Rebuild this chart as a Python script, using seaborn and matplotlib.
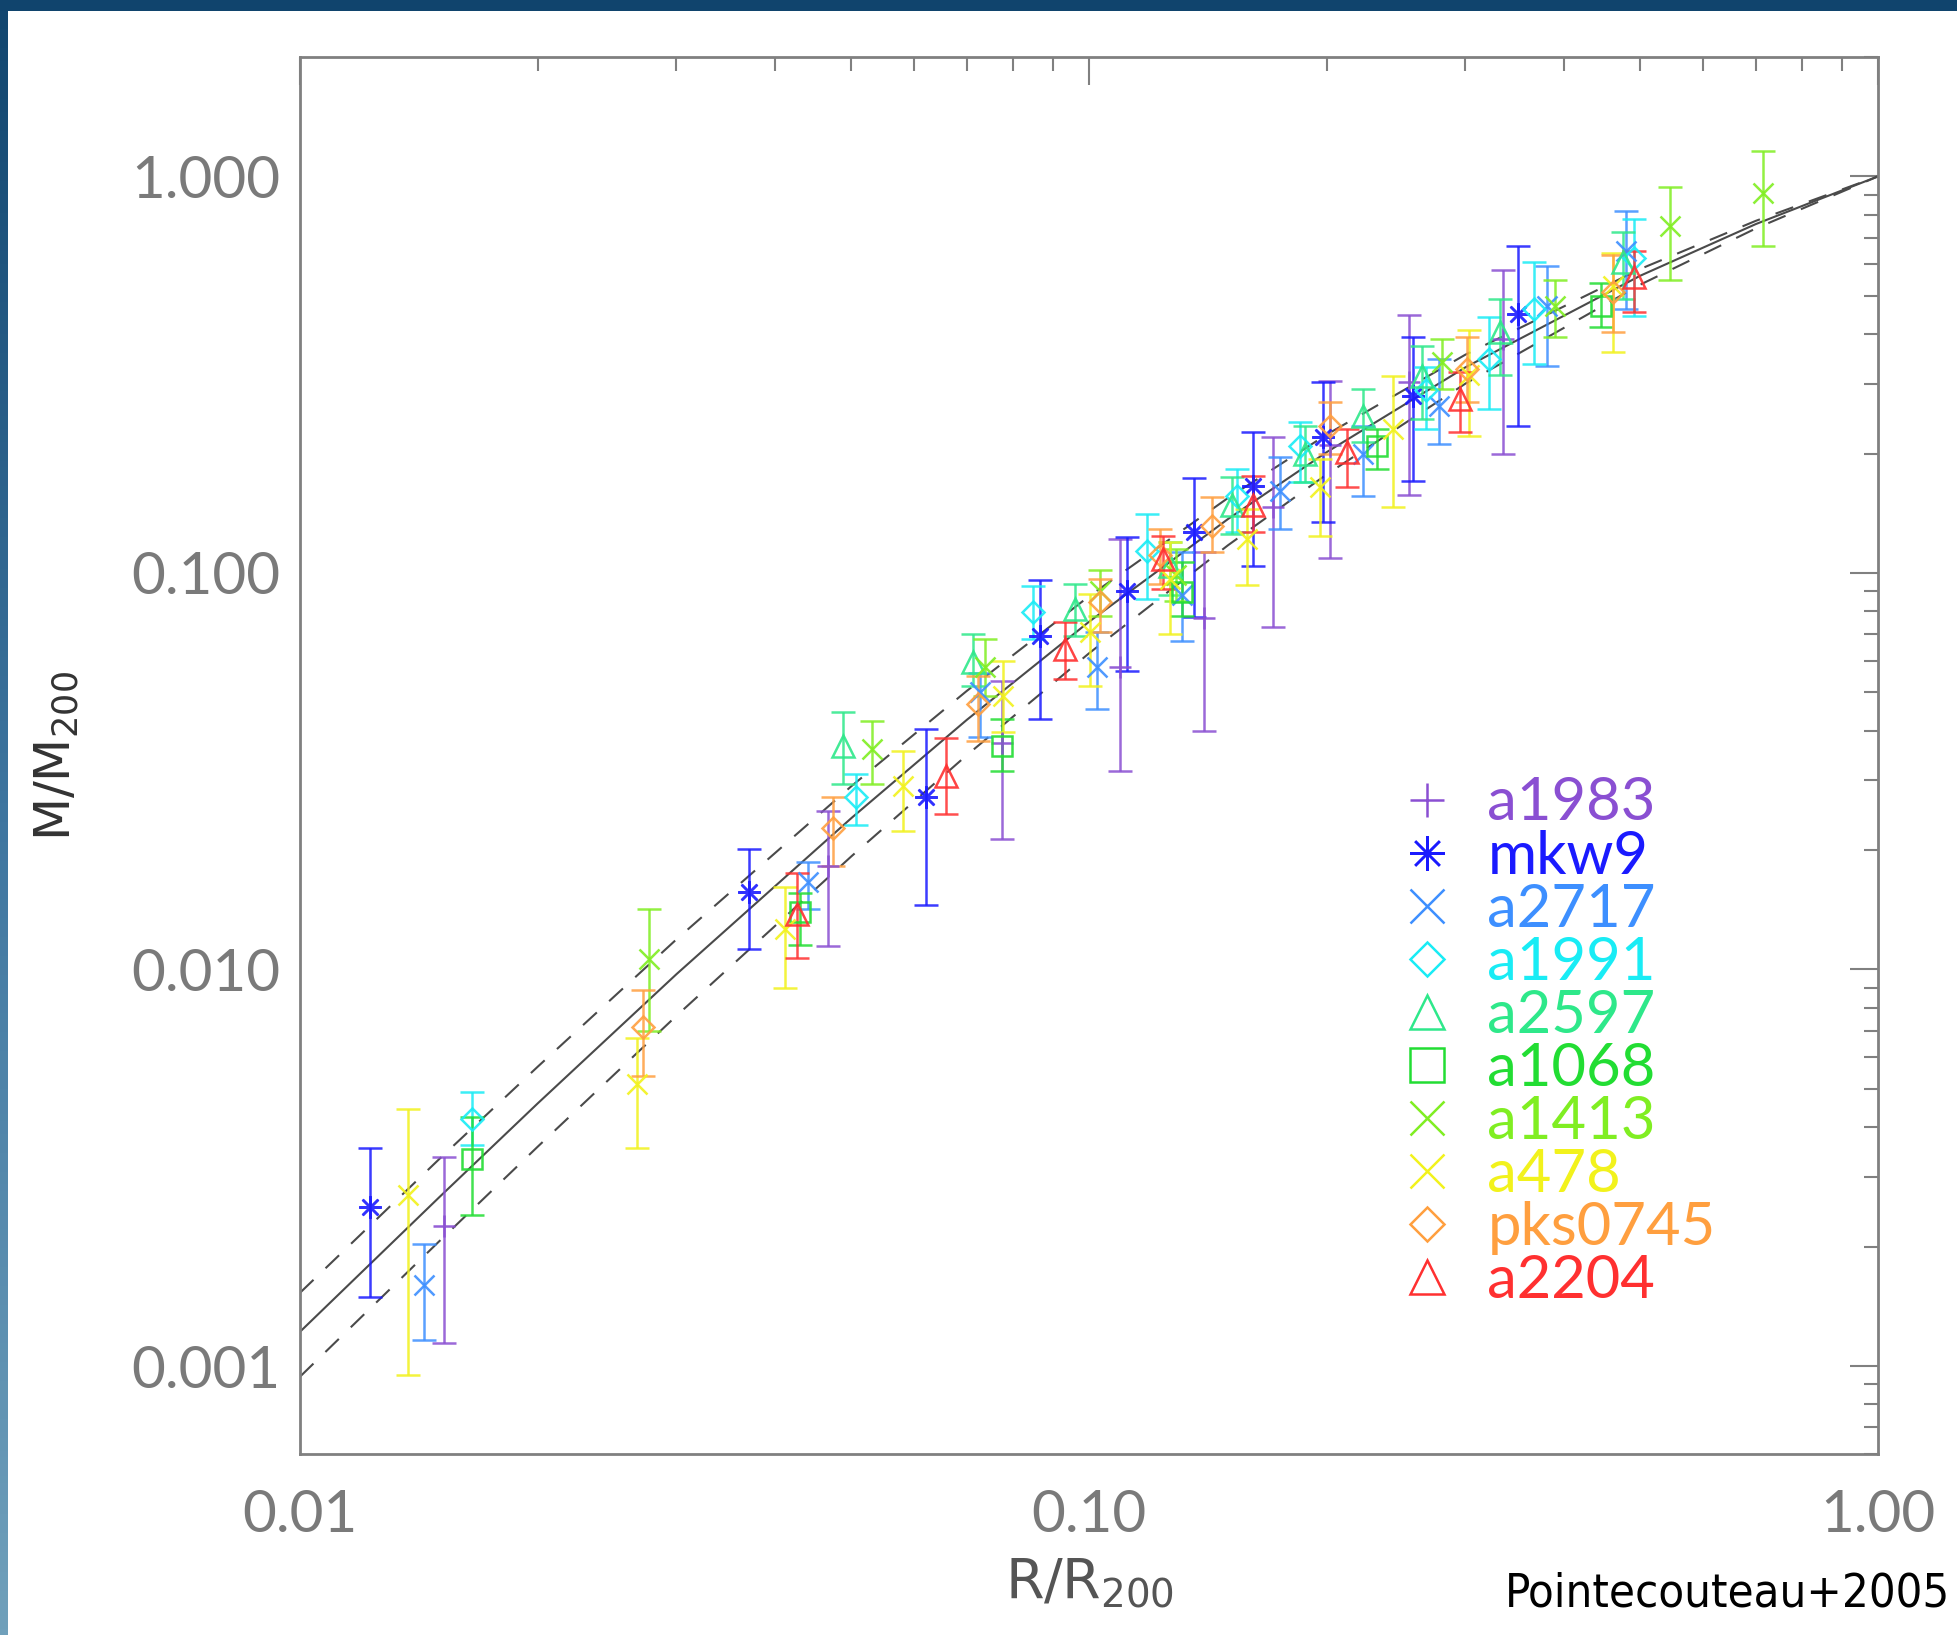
import os
import numpy as np
import pandas as pd
import matplotlib
matplotlib.use("Agg")
import matplotlib.pyplot as plt
import matplotlib.font_manager as fm
import seaborn as sns
from matplotlib.lines import Line2D
from matplotlib.patches import Rectangle
from matplotlib.colors import LinearSegmentedColormap
from matplotlib.ticker import FixedLocator, FixedFormatter, LogLocator, NullFormatter

# ---------------- data ----------------
cluster_names = ["a1983", "mkw9", "a2717", "a1991", "a2597",
                 "a1068", "a1413", "a478", "pks0745", "a2204"]

a1983_r = [0.01524, 0.0467, 0.0776, 0.1094, 0.140, 0.171, 0.2018, 0.2546, 0.3343]
a1983_m = [0.00226, 0.0182, 0.0372, 0.058, 0.077, 0.147, 0.21, 0.303, 0.39]
a1983_lo = [0.00114, 0.01143, 0.0213, 0.0316, 0.040, 0.073, 0.109, 0.157, 0.20]
a1983_hi = [0.00337, 0.0251, 0.0534, 0.122, 0.113, 0.22, 0.305, 0.446, 0.58]

mkw9_r = [0.01227, 0.0371, 0.0621, 0.0867, 0.1116, 0.136, 0.1614, 0.198, 0.2577, 0.35]
mkw9_m = [0.00252, 0.0157, 0.0273, 0.0693, 0.090, 0.127, 0.166, 0.2205, 0.28, 0.451]
mkw9_lo = [0.00149, 0.01124, 0.0145, 0.0428, 0.0566, 0.0774, 0.104, 0.1345, 0.171, 0.235]
mkw9_hi = [0.00355, 0.0201, 0.0404, 0.096, 0.123, 0.174, 0.227, 0.303, 0.394, 0.669]

a2717_r = [0.01436, 0.0440, 0.0727, 0.1023, 0.131, 0.1746, 0.2223, 0.278, 0.381, 0.479]
a2717_m = [0.0016, 0.0166, 0.050, 0.0579, 0.088, 0.161, 0.20, 0.264, 0.47, 0.647]
a2717_lo = [0.00116, 0.0142, 0.0385, 0.0454, 0.0675, 0.129, 0.156, 0.212, 0.333, 0.464]
a2717_hi = [0.00203, 0.0187, 0.056, 0.0708, 0.1128, 0.196, 0.235, 0.347, 0.593, 0.816]

a1991_r = [0.01652, 0.0507, 0.0848, 0.1186, 0.154, 0.185, 0.267, 0.321, 0.366, 0.49]
a1991_m = [0.0042, 0.0272, 0.0797, 0.1137, 0.156, 0.209, 0.29, 0.347, 0.464, 0.621]
a1991_lo = [0.0036, 0.0232, 0.0681, 0.0859, 0.127, 0.17, 0.23, 0.259, 0.337, 0.445]
a1991_hi = [0.00492, 0.0311, 0.0927, 0.141, 0.183, 0.24, 0.33, 0.443, 0.61, 0.783]

a2597_r = [0.0488, 0.0713, 0.0959, 0.1268, 0.152, 0.188, 0.2223, 0.264, 0.332, 0.475]
a2597_m = [0.0366, 0.0596, 0.0811, 0.104, 0.148, 0.20, 0.249, 0.314, 0.406, 0.61]
a2597_lo = [0.0293, 0.0518, 0.0693, 0.088, 0.125, 0.17, 0.214, 0.245, 0.315, 0.492]
a2597_hi = [0.0446, 0.0702, 0.0938, 0.12, 0.175, 0.235, 0.291, 0.374, 0.492, 0.726]

a1068_r = [0.0165, 0.0430, 0.0776, 0.131, 0.2317, 0.445]
a1068_m = [0.00333, 0.0140, 0.0366, 0.0895, 0.209, 0.472]
a1068_lo = [0.0024, 0.01156, 0.0316, 0.078, 0.183, 0.418]
a1068_hi = [0.00425, 0.0156, 0.0428, 0.1065, 0.231, 0.537]

a1413_r = [0.0277, 0.0531, 0.0738, 0.1033, 0.129, 0.28, 0.39, 0.545, 0.715]
a1413_m = [0.0106, 0.036, 0.058, 0.090, 0.099, 0.341, 0.47, 0.748, 0.906]
a1413_lo = [0.0070, 0.0293, 0.049, 0.078, 0.085, 0.291, 0.394, 0.547, 0.666]
a1413_hi = [0.0142, 0.0423, 0.068, 0.102, 0.115, 0.39, 0.547, 0.94, 1.157]

a478_r = [0.01371, 0.0267, 0.0412, 0.0581, 0.0778, 0.1003, 0.1268, 0.1585, 0.196, 0.2427, 0.303, 0.462]
a478_m = [0.0027, 0.00513, 0.01262, 0.029, 0.0489, 0.071, 0.0966, 0.122, 0.165, 0.231, 0.315, 0.53]
a478_lo = [0.00095, 0.00355, 0.0090, 0.0223, 0.0397, 0.0518, 0.070, 0.093, 0.124, 0.147, 0.222, 0.361]
a478_hi = [0.00446, 0.00673, 0.0161, 0.0355, 0.060, 0.0886, 0.1195, 0.145, 0.194, 0.314, 0.41, 0.64]

pks0745_r = [0.0272, 0.0474, 0.0723, 0.1033, 0.123, 0.1433, 0.2018, 0.301, 0.462]
pks0745_m = [0.00718, 0.0228, 0.0467, 0.0845, 0.111, 0.1315, 0.235, 0.327, 0.512]
pks0745_lo = [0.0054, 0.0182, 0.0377, 0.0708, 0.094, 0.113, 0.20, 0.27, 0.406]
pks0745_hi = [0.0089, 0.0273, 0.055, 0.0967, 0.129, 0.155, 0.27, 0.394, 0.632]

a2204_r = [0.0427, 0.0659, 0.0933, 0.124, 0.1614, 0.2123, 0.295, 0.49]
a2204_m = [0.01377, 0.0307, 0.0643, 0.1085, 0.148, 0.202, 0.275, 0.559]
a2204_lo = [0.01066, 0.0246, 0.054, 0.0911, 0.127, 0.165, 0.227, 0.456]
a2204_hi = [0.01747, 0.0383, 0.0752, 0.124, 0.176, 0.231, 0.322, 0.65]

# model curves (solid = best fit, dashed = envelope)
model_r = [0.01, 0.015, 0.02, 0.03, 0.05, 0.07, 0.1, 0.15, 0.2, 0.3, 0.5, 0.7, 1.0]
model_mid = [0.00122, 0.00266, 0.00459, 0.00973, 0.0241, 0.0426, 0.0753, 0.1367, 0.2015, 0.330, 0.562, 0.758, 1.0]
model_upper = [0.00153, 0.00332, 0.00568, 0.01191, 0.0290, 0.0504, 0.0873, 0.1545, 0.2232, 0.3552, 0.5844, 0.7724, 1.0]
model_lower = [0.00094, 0.00206, 0.00357, 0.00764, 0.0193, 0.0347, 0.0627, 0.1174, 0.1771, 0.3002, 0.5336, 0.7390, 1.0]

x_ticks = [0.01, 0.1, 1.0]
x_tick_labels = ["0.01", "0.10", "1.00"]
y_ticks = [0.001, 0.01, 0.1, 1.0]
y_tick_labels = ["0.001", "0.010", "0.100", "1.000"]

# ---------------- styles ----------------
cluster_colors = ["#8a4fd2", "#1a1aff", "#3d8fff", "#19ecf5", "#2ee88a",
                  "#22dd33", "#80ee22", "#f2f21c", "#ff9f3f", "#ff3030"]
cluster_markers = ["+", (8, 2, 0), "x", "D", "^", "s", "x", "x", "D", "^"]
cluster_ms = [16, 16, 15, 11, 16, 15, 15, 15, 11, 16]
legend_ms = [25, 25, 24, 17, 25, 24, 24, 24, 17, 25]

clusters = [
    (a1983_r, a1983_m, a1983_lo, a1983_hi),
    (mkw9_r, mkw9_m, mkw9_lo, mkw9_hi),
    (a2717_r, a2717_m, a2717_lo, a2717_hi),
    (a1991_r, a1991_m, a1991_lo, a1991_hi),
    (a2597_r, a2597_m, a2597_lo, a2597_hi),
    (a1068_r, a1068_m, a1068_lo, a1068_hi),
    (a1413_r, a1413_m, a1413_lo, a1413_hi),
    (a478_r, a478_m, a478_lo, a478_hi),
    (pks0745_r, pks0745_m, pks0745_lo, pks0745_hi),
    (a2204_r, a2204_m, a2204_lo, a2204_hi),
]

sns.set_style("white")
plt.rcParams["font.family"] = ["Lato", "DejaVu Sans"]


def find_narrow_font():
    prefs = ["LiberationSansNarrow-Regular", "DejaVuSansCondensed.ttf",
             "NotoSans-Condensed", "OpenSans_Condensed-Regular", "OpenSansCondensed",
             "RobotoCondensed-Regular", "Roboto-Condensed"]
    paths = [f.fname for f in fm.fontManager.ttflist]
    for p in prefs:
        for path in paths:
            if p in os.path.basename(path):
                return fm.FontProperties(fname=path)
    for path in paths:
        b = os.path.basename(path)
        if ("Narrow" in b or "Condensed" in b) and "Bold" not in b and "Italic" not in b \
                and "Oblique" not in b and "Mono" not in b and "Serif" not in b:
            return fm.FontProperties(fname=path)
    return fm.FontProperties(family="Lato")


W, H = 1957, 1635
fig = plt.figure(figsize=(W / 100, H / 100), dpi=100)
fig.patch.set_facecolor("white")

# framing (dark blue top strip, gradient left strip)
fig.patches.append(Rectangle((0, 1 - 11 / H), 1, 11 / H, transform=fig.transFigure,
                             facecolor="#10446d", edgecolor="none", zorder=0))
strip = fig.add_axes([0, 0, 8 / W, 1 - 11 / H])
grad_cmap = LinearSegmentedColormap.from_list("edge", ["#12466f", "#3f76a0", "#70a0bb"])
strip.imshow(np.linspace(0, 1, 256).reshape(-1, 1), aspect="auto", cmap=grad_cmap,
             extent=[0, 1, 0, 1], origin="upper")
strip.set_axis_off()

ax = fig.add_axes([300 / W, (H - 1454) / H, 1578 / W, 1397 / H])
ax.set_xscale("log")
ax.set_yscale("log")

# model curves
curve_df = pd.DataFrame({"r": model_r, "mid": model_mid, "up": model_upper, "low": model_lower})
line_col = "#4a4a4a"
sns.lineplot(data=curve_df, x="r", y="mid", ax=ax, color=line_col, lw=1.5,
             estimator=None, sort=False, zorder=2)
sns.lineplot(data=curve_df, x="r", y="up", ax=ax, color=line_col, lw=1.5,
             estimator=None, sort=False, linestyle=(0, (9, 8)), zorder=2)
sns.lineplot(data=curve_df, x="r", y="low", ax=ax, color=line_col, lw=1.5,
             estimator=None, sort=False, linestyle=(0, (9, 8)), zorder=2)

# data points with asymmetric error bars
for (r, m, lo, hi), col, mk, ms in zip(clusters, cluster_colors, cluster_markers, cluster_ms):
    r = np.asarray(r); m = np.asarray(m); lo = np.asarray(lo); hi = np.asarray(hi)
    ax.errorbar(r, m, yerr=[m - lo, hi - m], fmt="none", ecolor=col, elinewidth=1.8,
                capsize=8.5, capthick=1.8, alpha=0.85, zorder=3)
    ax.plot(r, m, ls="none", marker=mk, ms=ms, mfc="none", mec=col, mew=1.8,
            color=col, alpha=0.9, zorder=4)

ax.set_xlim(0.01, 1.0)
ax.set_ylim(6.0e-4, 2.0)

ax.xaxis.set_major_locator(FixedLocator(x_ticks))
ax.xaxis.set_major_formatter(FixedFormatter(x_tick_labels))
ax.yaxis.set_major_locator(FixedLocator(y_ticks))
ax.yaxis.set_major_formatter(FixedFormatter(y_tick_labels))
ax.xaxis.set_minor_locator(LogLocator(base=10, subs=np.arange(2, 10)))
ax.yaxis.set_minor_locator(LogLocator(base=10, subs=np.arange(2, 10)))
ax.xaxis.set_minor_formatter(NullFormatter())
ax.yaxis.set_minor_formatter(NullFormatter())

axis_gray = "#808080"
tick_txt = "#7a7a7a"
ax.tick_params(which="both", direction="in", top=True, right=True, color=axis_gray,
               width=1.5)
ax.tick_params(which="major", length=20)
ax.tick_params(which="minor", length=10)
ax.tick_params(axis="x", which="major", pad=25, labelsize=42, labelcolor=tick_txt)
ax.tick_params(axis="y", which="major", pad=14, labelsize=42, labelcolor=tick_txt)
for sp in ax.spines.values():
    sp.set_color(axis_gray)
    sp.set_linewidth(2.0)

ax.set_xlabel(r"R/R$_\mathregular{200}$", fontsize=40, color="#555555", family="DejaVu Sans")
ax.xaxis.set_label_coords(0.5, -0.092)
ax.xaxis.label.set_va("center")
ax.set_ylabel(r"M/M$_\mathregular{200}$", fontsize=36, color="#333333", family="DejaVu Sans")
ax.yaxis.set_label_coords(-0.154, 0.5)
ax.yaxis.label.set_va("center")

# legend
handles = [Line2D([], [], ls="none", marker=mk, ms=ms, mfc="none", mec=col, mew=1.8, color=col)
           for col, mk, ms in zip(cluster_colors, cluster_markers, legend_ms)]
leg = ax.legend(handles, cluster_names, loc="upper left", bbox_to_anchor=(0.695, 0.485),
                frameon=False, prop={"family": "Lato", "weight": "normal", "size": 43},
                handlelength=1.0, handletextpad=0.52, labelspacing=-0.015,
                borderpad=0, borderaxespad=0, labelcolor="linecolor")

# credit text, width fitted to the reference (about 444 px)
credit_fp = find_narrow_font()
credit_fp.set_size(38)
credit = fig.text(1950 / W, (H - 1606) / H, "Pointecouteau+2005", ha="right", va="baseline",
                  color="black", fontproperties=credit_fp)
fig.canvas.draw()
w_now = credit.get_window_extent().width
if w_now > 0:
    credit.set_fontsize(38 * 444.0 / w_now)

fig.savefig("out.png", dpi=100, facecolor="white")
